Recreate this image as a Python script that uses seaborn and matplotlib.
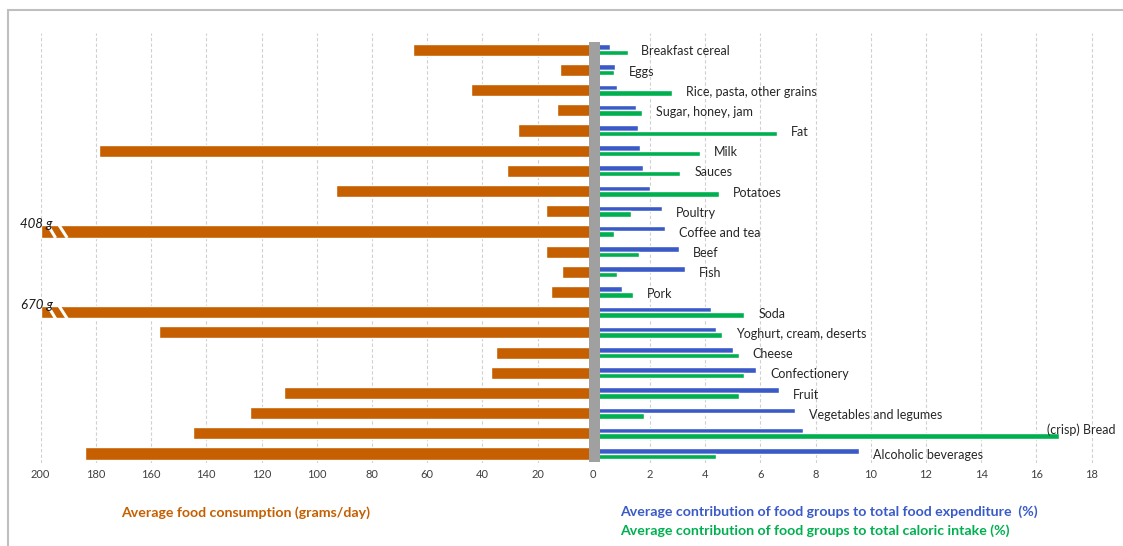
import numpy as np
import pandas as pd
import matplotlib
matplotlib.use("Agg")
import matplotlib.pyplot as plt
import matplotlib.transforms as mtransforms
from matplotlib.patches import Rectangle
import seaborn as sns

# food groups, top to bottom
foods = ["Breakfast cereal", "Eggs", "Rice, pasta, other grains", "Sugar, honey, jam",
         "Fat", "Milk", "Sauces", "Potatoes", "Poultry", "Coffee and tea", "Beef",
         "Fish", "Pork", "Soda", "Yoghurt, cream, deserts", "Cheese", "Confectionery",
         "Fruit", "Vegetables and legumes", "(crisp) Bread", "Alcoholic beverages"]

# grams per day
consumption = [65, 12, 44, 13, 27, 179, 31, 93, 17, 408, 17, 11, 15, 670,
               157, 35, 37, 112, 124, 145, 184]
# % of food expenditure
expenditure = [0.55, 0.74, 0.79, 1.49, 1.55, 1.65, 1.75, 2.0, 2.45, 2.56, 3.05,
               3.26, 1.0, 4.2, 4.4, 5.01, 5.85, 6.66, 7.27, 7.56, 9.57]
# % of caloric intake
calories = [1.19, 0.70, 2.81, 1.70, 6.61, 3.80, 3.10, 4.51, 1.30, 0.70, 1.60,
            0.79, 1.40, 5.42, 4.61, 5.21, 5.42, 5.21, 1.79, 16.83, 4.40]

left_ticks = list(range(200, -1, -20))
right_ticks = list(range(2, 19, 2))

ORANGE = "#C55F00"
BLUE = "#3A5BC7"
GREEN = "#00B050"

sns.set_style("white")
plt.rcParams["font.family"] = ["Lato", "DejaVu Sans"]

W, H = 1123, 546
fig = plt.figure(figsize=(W / 100, H / 100), dpi=100)

def px_axes(x0, x1, ytop, ybot):
    return fig.add_axes([x0 / W, (H - ybot) / H, (x1 - x0) / W, (ybot - ytop) / H])

ax_l = px_axes(40.7, 592.7, 33, 463)
ax_r = px_axes(594.8, 1118, 33, 463)

LMAX = 200
df_l = pd.DataFrame({"food": foods, "grams": np.minimum(consumption, LMAX)})
sns.barplot(data=df_l, x="grams", y="food", color=ORANGE, width=0.6,
            saturation=1, ax=ax_l, zorder=2)

df_r = pd.DataFrame({"food": foods * 2,
                     "pct": expenditure + calories,
                     "series": ["exp"] * len(foods) + ["cal"] * len(foods)})
sns.barplot(data=df_r, x="pct", y="food", hue="series", hue_order=["exp", "cal"],
            palette=[BLUE, GREEN], width=0.55, saturation=1, legend=False,
            ax=ax_r, zorder=2)

rmax = (1118 - 594.8) / 27.6
for ax in (ax_l, ax_r):
    ax.set_ylim(20.47, -0.83)
    ax.set_xlabel("")
    ax.set_ylabel("")
    ax.set_yticks([])
    for s in ax.spines.values():
        s.set_visible(False)
    ax.grid(axis="x", color="#D0D0D0", linestyle=(0, (3, 2)), linewidth=0.8, zorder=0)
    ax.set_axisbelow(True)
    ax.tick_params(axis="x", length=0, pad=4, labelsize=8, labelcolor="#404040")

ax_l.set_xlim(LMAX, 0)
ax_l.set_xticks(left_ticks)
ax_r.set_xlim(0, rmax)
ax_r.set_xticks(right_ticks)

# break marks and true values for the clipped bars
for i, v in enumerate(consumption):
    if v > LMAX:
        for xa, xb in [(197.4, 194.6), (193.4, 190.4)]:
            ax_l.plot([xa, xb], [i - 0.32, i + 0.32], color="white", lw=2.2,
                      solid_capstyle="butt", zorder=3)
        ax_l.text(201.5, i - 0.38, f"{v} g", ha="center", va="center",
                  fontsize=9.5, style="italic", color="#1A1A1A", clip_on=False)

# grey spine bar over the zero line
trans = mtransforms.blended_transform_factory(ax_r.transData, ax_r.transData)
ax_r.add_patch(Rectangle((-0.21, -0.38), 0.41, 20.8, transform=trans,
                         facecolor="#A0A0A0", edgecolor="none", clip_on=False, zorder=5))

# category labels
for i, name in enumerate(foods):
    end = max(expenditure[i], calories[i])
    if end + 3 > rmax:
        ax_r.text(rmax - 0.08, i - 0.2, name, ha="right", va="center",
                  fontsize=9, color="#262626")
    else:
        ax_r.text(end + 0.5, i + 0.08, name, ha="left", va="center",
                  fontsize=9, color="#262626")

# axis titles
fig.text(246 / W, 1 - 513 / H, "Average food consumption (grams/day)",
         ha="center", va="center", fontsize=10.2, fontweight="bold", color=ORANGE)
fig.text(620 / W, 1 - 512 / H,
         "Average contribution of food groups to total food expenditure  (%)",
         ha="left", va="center", fontsize=10.2, fontweight="bold", color=BLUE)
fig.text(620 / W, 1 - 531 / H,
         "Average contribution of food groups to total caloric intake (%)",
         ha="left", va="center", fontsize=10.2, fontweight="bold", color=GREEN)

# chart frame
fig.add_artist(Rectangle((8 / W, -0.05), 1.2, 1 - 10 / H + 0.05,
                         transform=fig.transFigure, fill=False,
                         edgecolor="#BFBFBF", linewidth=1.5))

fig.savefig("out.png", dpi=100)
